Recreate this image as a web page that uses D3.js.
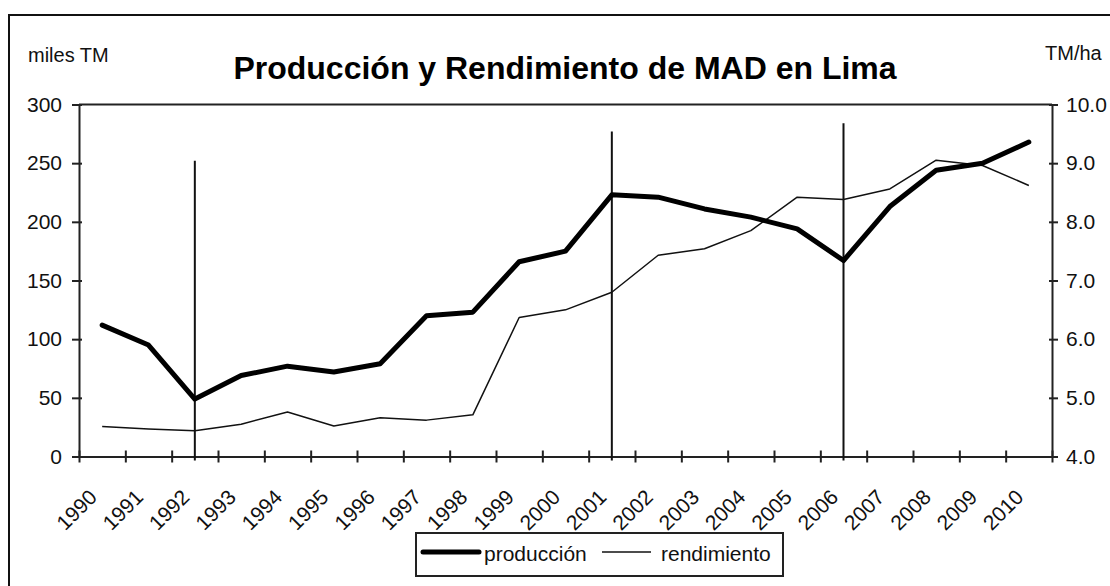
<!DOCTYPE html>
<html>
    <head>
        <meta charset="utf-8">
        <script type="text/javascript" src="https://d3js.org/d3.v7.min.js"></script>
        <style>
            html, body {
                margin: 0;
                background: #fff;
                font-family: "Liberation Sans", Arial, sans-serif;
            }
            svg text {
                fill: #111;
            }
            svg .title {
                font-size: 32px;
                font-weight: bold;
                fill: #000;
            }
            svg .unit {
                font-size: 20px;
            }
            svg g.axis text {
                font-size: 21px;
            }
            svg g.axis line, svg g.axis path {
                stroke: #222;
                stroke-width: 2px;
            }
            svg .legend text {
                font-size: 21px;
            }
        </style>
    </head>
    <body>
        <div id="chart"></div>

        <script>
            var years = ["1990", "1991", "1992", "1993", "1994", "1995", "1996", "1997", "1998", "1999", "2000",
                         "2001", "2002", "2003", "2004", "2005", "2006", "2007", "2008", "2009", "2010"];

            // miles TM (left axis)
            var produccion = [112, 95, 49, 69, 77, 72, 79, 120, 123, 166, 175,
                              223, 221, 211, 204, 194, 167, 213, 244, 250, 268];

            // TM/ha (right axis)
            var rendimiento = [4.51, 4.47, 4.44, 4.55, 4.76, 4.52, 4.66, 4.62, 4.71, 6.37, 6.50,
                               6.80, 7.43, 7.54, 7.85, 8.42, 8.38, 8.56, 9.05, 8.96, 8.62];

            var leftTicks = [0, 50, 100, 150, 200, 250, 300];
            var rightTicks = [4, 5, 6, 7, 8, 9, 10];

            // vertical marker lines: year and top value (left axis units)
            var markerYears = ["1992", "2001", "2006"];
            var markerTops = [252, 277, 284];

            var W = 1110, H = 586;
            var plot = {left: 79, right: 1052, top: 104.5, bottom: 456.5};

            var svg = d3.select("#chart")
                .append("svg")
                    .attr("width", W)
                    .attr("height", H);

            // outer chart frame (runs off the picture on the right and bottom)
            svg.append("rect")
                .attr("x", 9)
                .attr("y", 15)
                .attr("width", 1200)
                .attr("height", 700)
                .attr("fill", "#fff")
                .attr("stroke", "#111")
                .attr("stroke-width", 2);

            var xBand = d3.scaleBand().domain(years).range([plot.left, plot.right]).padding(0);
            var xEdge = d3.scaleLinear().domain([0, years.length]).range([plot.left, plot.right]);
            var cx = function(y) { return xBand(y) + xBand.bandwidth() / 2; };

            var yLeft = d3.scaleLinear().domain([0, 300]).range([plot.bottom, plot.top]);
            var yRight = d3.scaleLinear().domain([4, 10]).range([plot.bottom, plot.top]);

            // plot area top border
            svg.append("line")
                .attr("x1", plot.left).attr("x2", plot.right)
                .attr("y1", plot.top).attr("y2", plot.top)
                .attr("stroke", "#222")
                .attr("stroke-width", 2);

            svg.append("text")
                .attr("class", "title")
                .attr("x", 565)
                .attr("y", 79)
                .attr("text-anchor", "middle")
                .text("Producción y Rendimiento de MAD en Lima");

            svg.append("text")
                .attr("class", "unit")
                .attr("x", 28)
                .attr("y", 62)
                .text("miles TM");

            svg.append("text")
                .attr("class", "unit")
                .attr("x", 1045)
                .attr("y", 60)
                .text("TM/ha");

            // left axis
            var gl = svg.append("g")
                .attr("class", "y axis")
                .attr("transform", "translate(" + plot.left + ",0)")
                .call(d3.axisLeft(yLeft).tickValues(leftTicks).tickSize(7).tickSizeOuter(0).tickPadding(10));
            gl.selectAll(".tick line").attr("x2", 3).attr("x1", -7);

            // right axis
            var gr = svg.append("g")
                .attr("class", "y axis")
                .attr("transform", "translate(" + plot.right + ",0)")
                .call(d3.axisRight(yRight).tickValues(rightTicks).tickSize(6).tickSizeOuter(0).tickPadding(8)
                        .tickFormat(d3.format(".1f")));
            gr.selectAll(".tick line").attr("x1", -3);

            // x axis with ticks between categories
            var gx = svg.append("g")
                .attr("class", "x axis")
                .attr("transform", "translate(0," + plot.bottom + ")")
                .call(d3.axisBottom(xEdge).tickValues(d3.range(years.length + 1)).tickSize(6).tickSizeOuter(0)
                        .tickFormat(""));
            gx.selectAll(".tick line").attr("y1", -6).attr("y2", 6);

            svg.selectAll(".x-label")
                .data(years)
                .enter()
                .append("text")
                .attr("class", "x-label")
                .attr("text-anchor", "end")
                .attr("font-size", "21px")
                .attr("transform", function(d) {
                    return "translate(" + (cx(d) - 4) + "," + (plot.bottom + 42) + ") rotate(-45)";
                })
                .text(function(d) { return d; });

            // marker lines
            svg.selectAll(".marker")
                .data(markerYears)
                .enter()
                .append("line")
                .attr("class", "marker")
                .attr("x1", function(d) { return cx(d); })
                .attr("x2", function(d) { return cx(d); })
                .attr("y1", function(d, i) { return yLeft(markerTops[i]); })
                .attr("y2", plot.bottom + 4)
                .attr("stroke", "#111")
                .attr("stroke-width", 2);

            var lineProd = d3.line()
                .x(function(d, i) { return cx(years[i]); })
                .y(function(d) { return yLeft(d); });

            var lineRend = d3.line()
                .x(function(d, i) { return cx(years[i]); })
                .y(function(d) { return yRight(d); });

            svg.append("path")
                .datum(rendimiento)
                .attr("d", lineRend)
                .attr("fill", "none")
                .attr("stroke", "#111")
                .attr("stroke-width", 1.5)
                .attr("stroke-linejoin", "round");

            svg.append("path")
                .datum(produccion)
                .attr("d", lineProd)
                .attr("fill", "none")
                .attr("stroke", "#000")
                .attr("stroke-width", 5)
                .attr("stroke-linejoin", "round")
                .attr("stroke-linecap", "round");

            // legend
            var lg = svg.append("g").attr("class", "legend");

            lg.append("rect")
                .attr("x", 416)
                .attr("y", 533)
                .attr("width", 367)
                .attr("height", 43)
                .attr("fill", "#fff")
                .attr("stroke", "#222")
                .attr("stroke-width", 2);

            lg.append("line")
                .attr("x1", 423).attr("x2", 479)
                .attr("y1", 552).attr("y2", 552)
                .attr("stroke", "#000")
                .attr("stroke-width", 5)
                .attr("stroke-linecap", "round");

            lg.append("text")
                .attr("x", 484)
                .attr("y", 561)
                .text("producción");

            lg.append("line")
                .attr("x1", 602).attr("x2", 651)
                .attr("y1", 552).attr("y2", 552)
                .attr("stroke", "#111")
                .attr("stroke-width", 1.5);

            lg.append("text")
                .attr("x", 661)
                .attr("y", 561)
                .text("rendimiento");
        </script>
    </body>
</html>
